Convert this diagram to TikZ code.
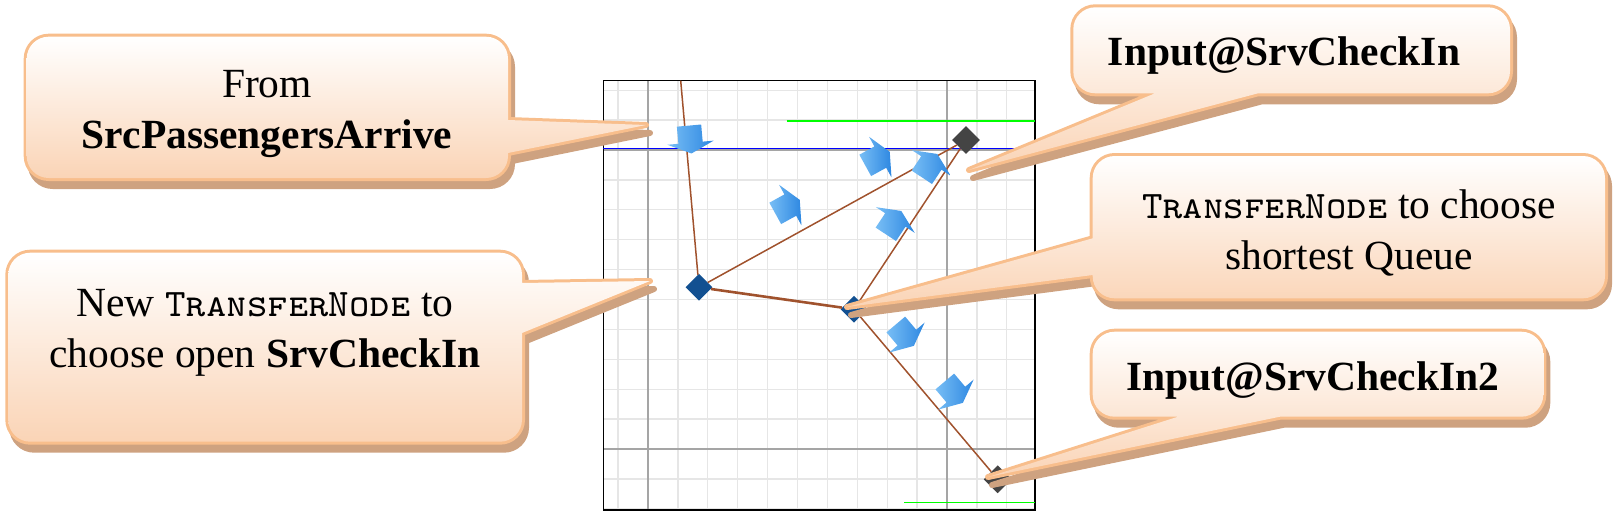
\documentclass[tikz,border=0pt]{standalone}
\usepackage{fontspec}
\setmainfont{Liberation Serif}
\usetikzlibrary{shapes.geometric,shapes.arrows}

\definecolor{crim}{RGB}{248,190,140}
\definecolor{cpeach}{RGB}{250,212,182}
\definecolor{cshade}{RGB}{206,162,128}
\definecolor{clink}{RGB}{160,82,45}
\definecolor{cnode}{RGB}{18,80,145}
\definecolor{centry}{RGB}{68,68,68}
\definecolor{cflow}{RGB}{45,135,225}
\definecolor{cflowlight}{RGB}{120,190,245}
\definecolor{cminor}{RGB}{230,230,230}
\definecolor{cmajor}{RGB}{165,165,165}

% small caps typewriter name
\newcommand\tnode{{\fontsize{39}{51}\selectfont\texttt{\textsc{TransferNode}}}}

\tikzset{
    %Define style for callout text
    note/.style={
           font=\fontsize{41.5}{51}\selectfont,
           align=center,
           inner sep=0pt},
    %Define style for callout bubbles
    bubble/.style={
           preaction={fill=cshade, draw=cshade, line width=6pt, line join=round,
                      transform canvas={shift={(4pt,-8pt)}}},
           preaction={draw=crim, line width=6pt, line join=round},
           top color=white,
           bottom color=cpeach},
    %Define style for diamonds
    transfer/.style={
           diamond,
           fill=cnode,
           inner sep=0pt,
           minimum size=27pt},
    entry/.style={
           transfer,
           fill=centry,
           minimum size=28pt},
    % Define link style
    link/.style={
           draw=clink,
           line width=1.5pt},
    heavy/.style={
           link,
           line width=2.6pt},
    % Define flow arrow style
    flow/.style={
           single arrow,
           inner xsep=0pt,
           inner ysep=12pt,
           minimum height=28pt,
           single arrow head extend=11pt,
           single arrow tip angle=130,
           left color=cflowlight,
           right color=cflow}
}

\begin{document}
\begin{tikzpicture}[x=1pt, y=-1pt]
 \useasboundingbox (0,0) rectangle (1618,515);
 %grid
    \foreach \i in {-1,...,12}
       \draw[cminor, line width=1.3pt] (648+\i*29.9,80.7) -- (648+\i*29.9,510);
    \foreach \i in {-12,...,2}
       \draw[cminor, line width=1.3pt] (603.3,449+\i*29.9) -- (1035,449+\i*29.9);
    \foreach \x in {648,947}
       \draw[cmajor, line width=1.6pt] (\x,80.7) -- (\x,510);
    \foreach \y in {150,449}
       \draw[cmajor, line width=1.6pt] (603.3,\y) -- (1035,\y);
    \draw[black, line width=1.5pt] (603.3,80.7) rectangle (1035,510);
    \draw[blue, line width=1.5pt] (603.3,148.3) -- (1015,148.3);
    \draw[green, line width=1.5pt] (786.7,121) -- (1035,121);
    \draw[green, line width=1.5pt] (904,502.7) -- (1035,502.7);
 %nodes
    \coordinate (src) at (680.7,80.7);
    \node[transfer] (tn1) at (699,287.3) {};
    \node[transfer] (tn2) at (854,309.3) {};
    \node[entry] (in1) at (966,140) {};
    \node[entry] (in2) at (997.7,479.3) {};
 %edges
    \draw[link] (src) to (tn1);
    \draw[heavy] (tn1) to (tn2);
    \draw[link] (tn1) to (in1);
    \draw[link] (tn2) to (in1);
    \draw[link] (tn2) to (in2);
 %flow arrows
    \node[flow, rotate=-84.9] (f1) at (690,136.7) {};
    \node[flow, rotate=28.9] (f2) at (785,208) {};
    \node[flow, rotate=28.9] (f3) at (875,160) {};
    \node[flow, rotate=56.5] (f4) at (928,168) {};
    \node[flow, rotate=56.5] (f5) at (892,225) {};
    \node[flow, rotate=-49.8] (f6) at (903,333) {};
    \node[flow, rotate=-49.8] (f7) at (952,390) {};
 %callouts
    \coordinate (p1) at (646,125);
    \coordinate (p2) at (650,281);
    \coordinate (p3) at (969,170);
    \coordinate (p4) at (847,307);
    \coordinate (p5) at (988,477);
    \path[bubble] [rounded corners=22pt] (26.7,36.7) -- (508,36.7) -- (508,178) -- (26.7,178) -- cycle
          [sharp corners] (508,120) -- (p1) -- (508,153) -- cycle;
    \path[bubble] [rounded corners=22pt] (8.3,252.7) -- (522,252.7) -- (522,441.7) -- (8.3,441.7) -- cycle
          [sharp corners] (522,283) -- (p2) -- (522,333) -- cycle;
    \path[bubble] [rounded corners=22pt] (1073.3,7.3) -- (1510,7.3) -- (1510,93.3) -- (1073.3,93.3) -- cycle
          [sharp corners] (1258,93.3) -- (p3) -- (1155,93.3) -- cycle;
    \path[bubble] [rounded corners=22pt] (1092.7,156) -- (1605,156) -- (1605,298.3) -- (1092.7,298.3) -- cycle
          [sharp corners] (1092.7,275) -- (p4) -- (1092.7,238.3) -- cycle;
    \path[bubble] [rounded corners=22pt] (1092.7,331.7) -- (1543.3,331.7) -- (1543.3,416.7) -- (1092.7,416.7) -- cycle
          [sharp corners] (1280,416.7) -- (p5) -- (1178,416.7) -- cycle;
 %callout texts
    \node[note] (c1) at (267,114) {From\\\textbf{SrcPassengersArrive}};
    \node[note] (c2) at (265,333) {New \tnode{} to\\choose open \textbf{SrvCheckIn}};
    \node[note] (c3) at (1284,55.5) {\textbf{Input@SrvCheckIn}};
    \node[note] (c4) at (1349,233) {\tnode{} to choose\\shortest Queue};
    \node[note] (c5) at (1313,380.5) {\textbf{Input@SrvCheckIn2}};
\end{tikzpicture}
\end{document}
